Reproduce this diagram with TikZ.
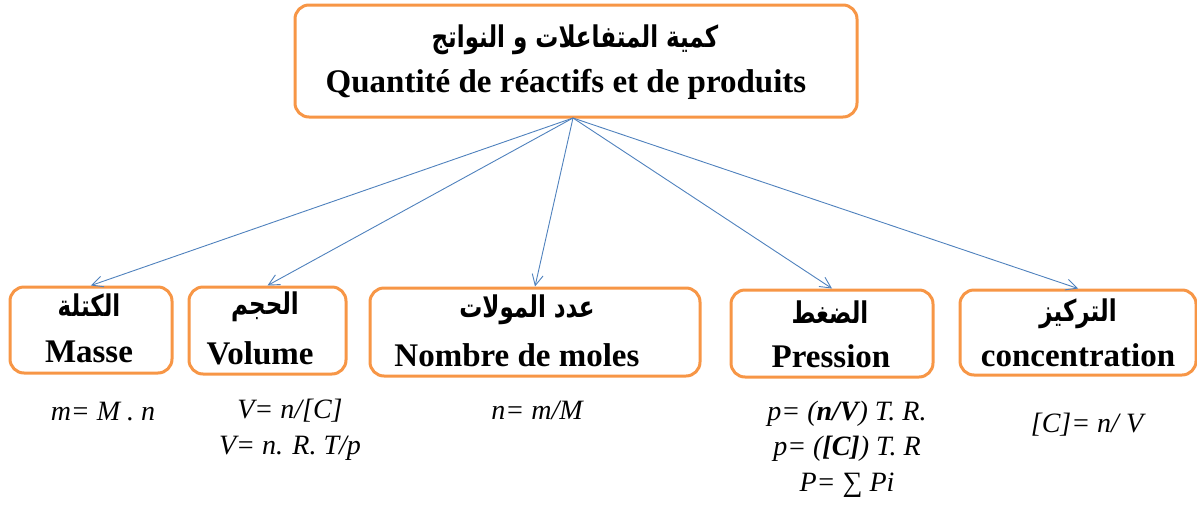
\documentclass[tikz,border=0pt]{standalone}
\usepackage{fontspec}
\usepackage{graphicx}
\setmainfont{Liberation Serif}
\newfontfamily\arabicfont[Script=Arabic]{DejaVu Sans}
\TeXXeTstate=1
\usetikzlibrary{arrows.meta}
\definecolor{boxorange}{HTML}{F79646}
\definecolor{linkblue}{HTML}{4F81BD}
% Arabic captions, set a little taller than the font draws them
\newcommand{\artall}[1]{\scalebox{1}[1.3]{\arabicfont\bfseries\fontsize{23}{26}\selectfont\beginR #1\endR}}
\tikzset{
  card/.style={draw=boxorange, line width=3pt, rounded corners=14pt, fill=white, inner sep=0pt},
  artext/.style={inner sep=0pt},
  frtext/.style={font=\bfseries\fontsize{33}{40}\selectfont, inner sep=0pt},
  formula/.style={font=\itshape\fontsize{28}{35.5}\selectfont, align=center, inner sep=0pt},
  link/.style={draw=linkblue, line width=0.9pt, -{Straight Barb[length=11pt,width=11pt,line width=0.9pt]}}
}
\begin{document}
\begin{tikzpicture}[x=1pt,y=-1pt]
\useasboundingbox (0,0) rectangle (1197,504);

% title card
\node[card, minimum width=562pt, minimum height=112pt] (top) at (576,61) {};
\node[artext] (topAr) at (575,40) {\artall{كمية المتفاعلات و النواتج}};
\node[frtext] (topFr) at (566,84) {Quantité de réactifs et de produits};

% quantity cards
\node[card, minimum width=162pt, minimum height=86pt] (masse) at (91,330) {};
\node[card, minimum width=157pt, minimum height=87pt] (volume) at (267.5,330.5) {};
\node[card, minimum width=330pt, minimum height=88pt] (moles) at (535,332) {};
\node[card, minimum width=202pt, minimum height=87pt] (pression) at (832,333.5) {};
\node[card, minimum width=236pt, minimum height=85pt] (conc) at (1078,332.5) {};

\node[artext] (masseAr) at (89,305) {\artall{الكتلة}};
\node[frtext] (masseFr) at (89,352) {Masse};
\node[artext] (volumeAr) at (265,307) {\artall{الحجم}};
\node[frtext] (volumeFr) at (260,353) {Volume};
\node[artext] (molesAr) at (527,310) {\artall{عدد المولات}};
\node[frtext] (molesFr) at (517,355) {Nombre de moles};
\node[artext] (pressionAr) at (830,312) {\artall{الضغط}};
\node[frtext] (pressionFr) at (831,356) {Pression};
\node[artext] (concAr) at (1078,314) {\artall{التركيز}};
\node[frtext] (concFr) at (1078,355) {concentration};

% connectors
\coordinate (hub) at (573,118);
\draw[link] (hub) -- (masse.north);
\draw[link] (hub) -- (volume.north);
\draw[link] (hub) -- (moles.north);
\draw[link] (hub) -- (pression.north);
\draw[link] (hub) -- (conc.north);

% relations
\node[formula] (fMasse) at (103,412) {m= M . n};
\node[formula] (fVolume) at (290,430) {V= n/[C]\\V= n. R. T/p};
\node[formula] (fMoles) at (537,410) {n= m/M};
\node[formula] (fPression) at (847,449) {p= (\textbf{n/V}) T. R.\\p= (\textbf{[C]}) T. R\\P= ∑ Pi};
\node[formula] (fConc) at (1087,425) {[C]= n/ V};
\end{tikzpicture}
\end{document}
